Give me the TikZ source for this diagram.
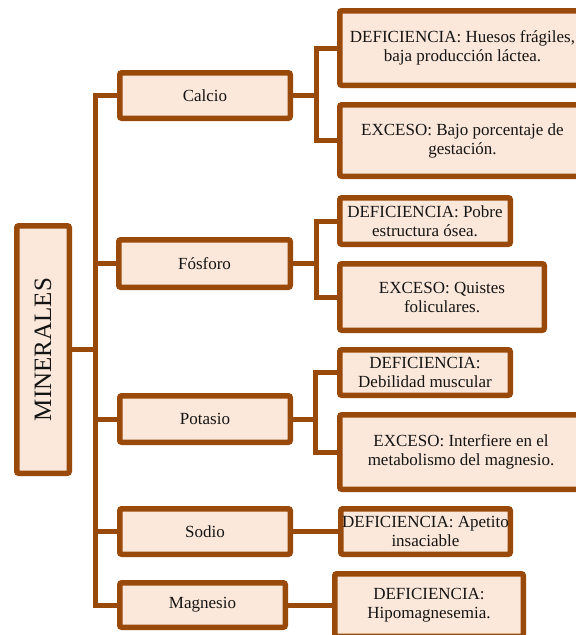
\documentclass[tikz,border=0pt]{standalone}
\usepackage{fontspec}
\setmainfont{Liberation Serif}
\definecolor{brd}{RGB}{153,74,10}
\definecolor{fil}{RGB}{252,232,218}
\definecolor{txt}{RGB}{20,20,20}
\tikzset{
  box/.style={draw=brd, fill=fil, line width=5.5pt, rounded corners=2pt,
    inner sep=0pt, align=center, text=txt,
    font=\fontsize{17}{19}\selectfont},
  conn/.style={draw=brd, line width=5pt}
}
\begin{document}
\begin{tikzpicture}[x=1pt,y=-1pt]
\useasboundingbox (0,0) rectangle (576,635);
\clip (0,0) rectangle (576,635);
% nodes
\node[box, minimum width=52.5pt, minimum height=247.5pt] (MIN) at (43,349.5)
  {\rotatebox{90}{\fontsize{25}{25}\selectfont MINERALES}};
\node[box, minimum width=170.5pt, minimum height=45.5pt] (Ca) at (205,95.5) {Calcio};
\node[box, minimum width=245.5pt, minimum height=74.5pt] (CaD) at (462.5,48)
  {DEFICIENCIA: Huesos frágiles,\\ baja producción láctea.};
\node[box, minimum width=245.5pt, minimum height=71.5pt] (CaE) at (462.5,140.5)
  {EXCESO: Bajo porcentaje de\\ gestación.};
\node[box, minimum width=171.5pt, minimum height=47.5pt] (Fo) at (204.5,263.5) {Fósforo};
\node[box, minimum width=170.5pt, minimum height=46.5pt] (PD) at (425,221)
  {DEFICIENCIA: Pobre\\ estructura ósea.};
\node[box, minimum width=204.5pt, minimum height=66.5pt] (PE) at (442,297)
  {EXCESO: Quistes\\ foliculares.};
\node[box, minimum width=170.5pt, minimum height=46.5pt] (K) at (205,419) {Potasio};
\node[box, minimum width=170.5pt, minimum height=45.5pt] (KD) at (425,372.5)
  {DEFICIENCIA:\\ Debilidad muscular};
\node[box, minimum width=242.5pt, minimum height=74.5pt] (KE) at (461,452)
  {EXCESO: Interfiere en el\\ metabolismo del magnesio.};
\node[box, minimum width=170.5pt, minimum height=45.5pt] (Na) at (205,531.5) {Sodio};
\node[box, minimum width=169.5pt, minimum height=45.5pt] (NaD) at (425.5,531.5)
  {DEFICIENCIA: Apetito\\ insaciable};
\node[box, minimum width=165.5pt, minimum height=44.5pt] (Mg) at (202.5,605) {Magnesio};
\node[box, minimum width=188.5pt, minimum height=62.5pt] (MgD) at (429,605)
  {DEFICIENCIA:\\ Hipomagnesemia.};
% coordinates
\coordinate (tb) at (95,605);
\coordinate (b1) at (316,95.5);
\coordinate (b2) at (316,263.5);
\coordinate (b3) at (315,419);
% connectors
\draw[conn] (Ca.west) -| (tb) -- (Mg.west);
\draw[conn] (MIN.east) -- (MIN.east -| tb);
\draw[conn] (Fo.west) -- (Fo.west -| tb);
\draw[conn] (K.west) -- (K.west -| tb);
\draw[conn] (Na.west) -- (Na.west -| tb);
\draw[conn] (Ca.east) -- (b1);
\draw[conn] (CaD.west) -| (b1) |- (CaE.west);
\draw[conn] (Fo.east) -- (b2);
\draw[conn] (PD.west) -| (b2) |- (PE.west);
\draw[conn] (K.east) -- (b3);
\draw[conn] (KD.west) -| (b3) |- (KE.west);
\draw[conn] (Na.east) -- (NaD.west);
\draw[conn] (Mg.east) -- (MgD.west);
\end{tikzpicture}
\end{document}
